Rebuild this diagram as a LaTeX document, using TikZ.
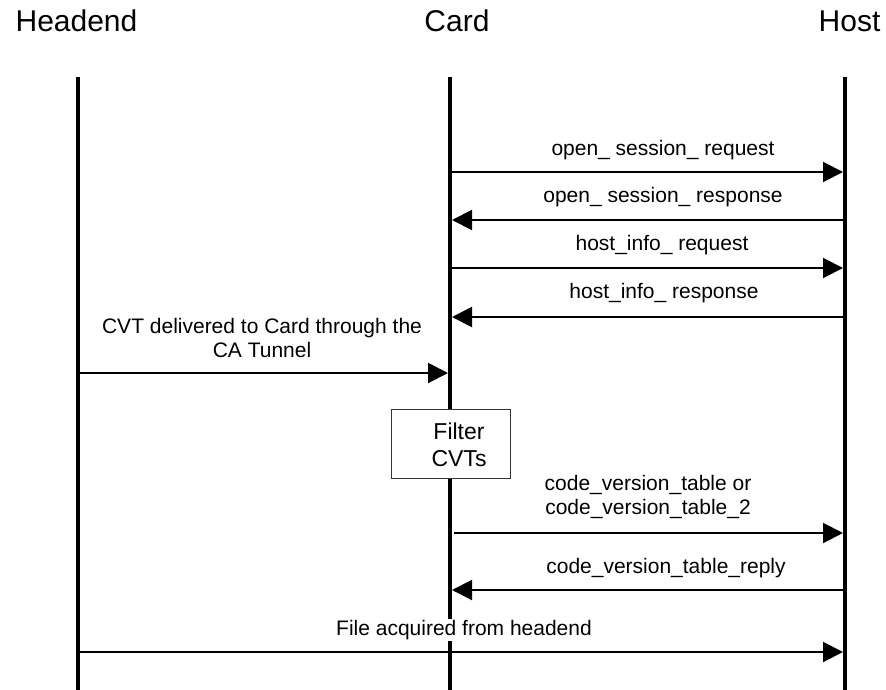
\documentclass[tikz,border=0pt]{standalone}
\usepackage{fontspec}
\setmainfont{Liberation Sans}
\usetikzlibrary{arrows.meta}
\begin{document}
\begin{tikzpicture}[x=1pt,y=-1pt,
  lifeline/.style={line width=4pt},
  msg/.style={line width=2pt,-{Triangle[length=20pt,width=20pt]},shorten >=2pt},
  lbl/.style={font=\fontsize{21}{24}\selectfont, align=center, inner sep=1pt},
  boxtext/.style={font=\fontsize{23}{27}\selectfont, align=center, inner sep=0pt},
  head/.style={font=\fontsize{30}{34}\selectfont, inner sep=0pt, anchor=base},
  filterbox/.style={draw=black!80, line width=1pt, fill=white, minimum width=119pt, minimum height=69pt, inner sep=0pt}]
\useasboundingbox (0,0) rectangle (886,690);

% headings
\node[head] (hHeadend) at (76.5,32) {Headend};
\node[head] (hCard) at (457,32) {Card};
\node[head] (hHost) at (849.5,32) {Host};

% lifelines
\coordinate (HeTop) at (78,77);  \coordinate (HeBot) at (78,690);
\coordinate (CaTop) at (450,77); \coordinate (CaBot) at (450,690);
\coordinate (HoTop) at (845,77); \coordinate (HoBot) at (845,690);
\draw[lifeline] (HeTop) -- (HeBot);
\draw[lifeline] (CaTop) -- (CaBot);
\draw[lifeline] (HoTop) -- (HoBot);

% open_session_request
\coordinate (c1) at (450,172); \coordinate (h1) at (845,172);
\draw[msg] (c1) -- (h1);
\node[lbl] (l1) at (663,150) {open\_ session\_ request};

% open_session_response
\coordinate (c2) at (450,220); \coordinate (h2) at (845,220);
\draw[msg] (h2) -- (c2);
\node[lbl] (l2) at (663,197) {open\_ session\_ response};

% host_info_request
\coordinate (c3) at (450,268); \coordinate (h3) at (845,268);
\draw[msg] (c3) -- (h3);
\node[lbl] (l3) at (662,245) {host\_info\_ request};

% host_info_response
\coordinate (c4) at (450,317); \coordinate (h4) at (845,317);
\draw[msg] (h4) -- (c4);
\node[lbl] (l4) at (664,293) {host\_info\_ response};

% CVT delivered
\coordinate (e5) at (78,373); \coordinate (c5) at (450,373);
\draw[msg] (e5) -- (c5);
\node[lbl] (l5) at (262,338) {CVT delivered to Card through the\\CA Tunnel};

% Filter box
\node[filterbox] (fb) at (450.5,443.5) {};
\node[boxtext] (ft) at (459,445) {Filter\\CVTs};

% code_version_table
\coordinate (c6) at (454,533); \coordinate (h6) at (845,533);
\draw[msg] (c6) -- (h6);
\node[lbl] (l6) at (648,497) {code\_version\_table or\\code\_version\_table\_2};

% code_version_table_reply
\coordinate (c7) at (450,590); \coordinate (h7) at (845,590);
\draw[msg] (h7) -- (c7);
\node[lbl] (l7) at (666,568) {code\_version\_table\_reply};

% File acquired
\coordinate (e8) at (78,652); \coordinate (h8) at (845,652);
\draw[msg] (e8) -- (h8);
\node[lbl, fill=white] (l8) at (464,630) {File acquired from headend};
\end{tikzpicture}
\end{document}
